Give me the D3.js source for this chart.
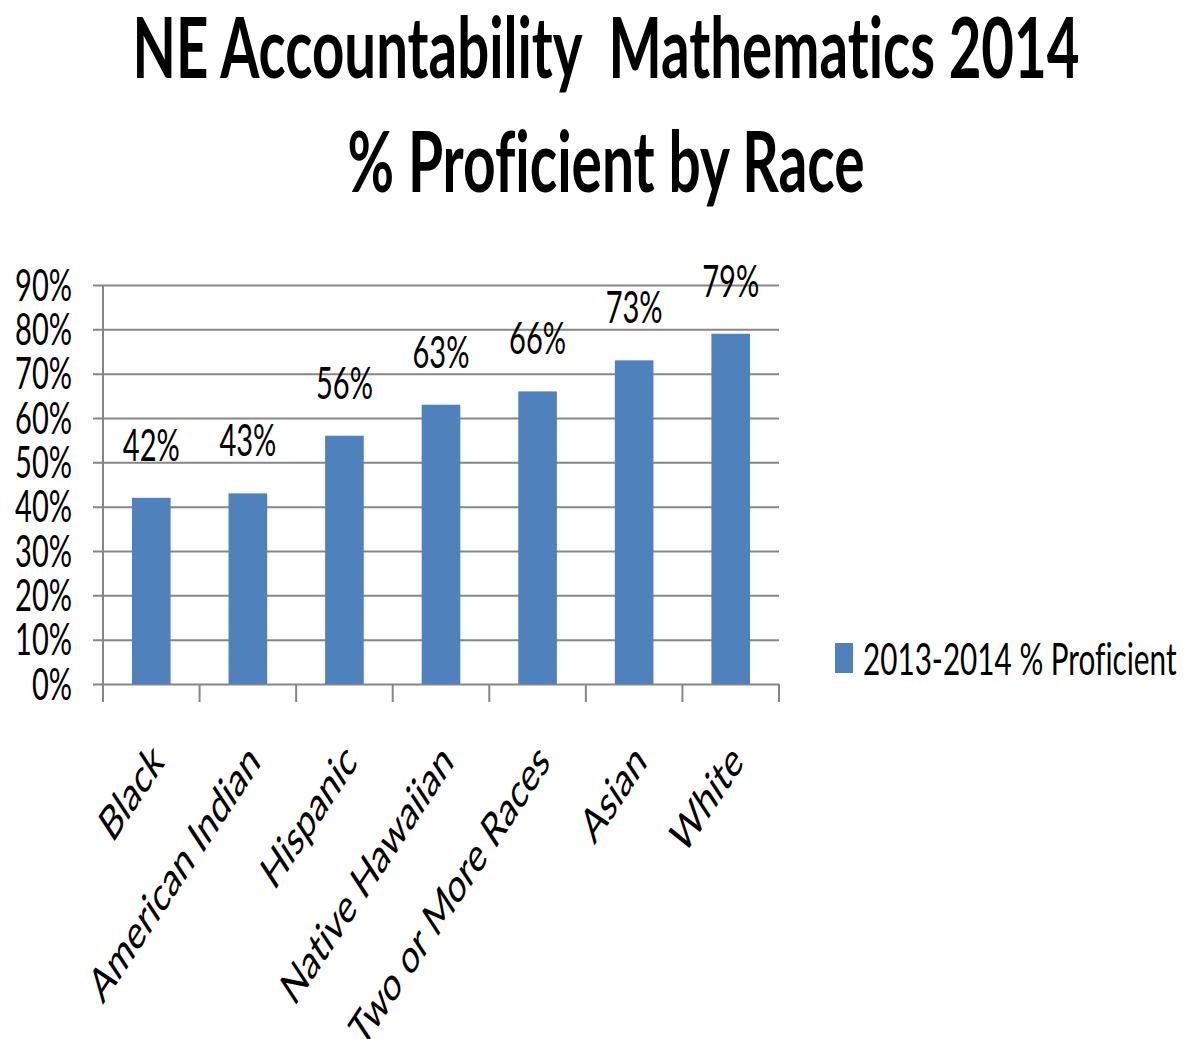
<!DOCTYPE html>
<html lang="en">
<head>
	<meta charset="UTF-8">
	<title>NE Accountability Mathematics 2014</title>
	<style>
		body { margin: 0; background: #fff; }
		text { font-family: Lato, "Open Sans", sans-serif; fill: #000; font-variant-ligatures: none; }
	</style>
</head>
<body>
	<svg id="chart" width="1190" height="1039"></svg>
	<script src="https://cdn.jsdelivr.net/npm/d3@7"></script>
	<script>

	// data
	var titleLines = ["NE Accountability  Mathematics 2014", "% Proficient by Race"];
	var categories = ["Black", "American Indian", "Hispanic", "Native Hawaiian", "Two or More Races", "Asian", "White"];
	var values = [0.42, 0.43, 0.56, 0.63, 0.66, 0.73, 0.79];
	var yTicks = [0, 0.1, 0.2, 0.3, 0.4, 0.5, 0.6, 0.7, 0.8, 0.9];
	var seriesName = "2013-2014 % Proficient";

	var svg = d3.select("#chart"),
		plotL = 103, plotR = 779, plotT = 285, plotB = 684,
		barColor = "#4f81bd",
		gridColor = "#868686",
		sx = 0.66,      // the original text is squeezed sideways
		rotSx = 0.66;

	var x = d3.scaleBand().domain(categories).range([plotL, plotR]).padding(0);
	var y = d3.scaleLinear().domain([0, 0.9]).range([plotB, plotT]);
	var pct = d3.format(".0%");

	// title
	svg.selectAll(".title")
		.data(titleLines)
		.enter().append("text")
		.attr("class", "title")
		.attr("x", 606)
		.attr("y", function (d, i) { return 78 + i * 114; })
		.attr("text-anchor", "middle")
		.style("white-space", "pre")
		.style("font-size", "85px")
		.style("font-weight", "700")
		.attr("textLength", function (d, i) { return i == 0 ? 947 : 517; })
		.attr("lengthAdjust", "spacingAndGlyphs")
		.text(function (d) { return d; });

	// y axis with gridlines
	var yAxis = d3.axisLeft(y)
		.tickValues(yTicks)
		.tickFormat(pct)
		.tickSizeInner(-(plotR - plotL))
		.tickSizeOuter(0);

	var gy = svg.append("g")
		.attr("transform", "translate(" + plotL + ",0)")
		.call(yAxis);
	gy.select(".domain").remove();
	gy.selectAll(".tick line")
		.attr("x1", -10)
		.attr("stroke", gridColor)
		.attr("stroke-width", 2);
	gy.selectAll(".tick text")
		.attr("x", 0)
		.attr("y", 15)
		.attr("dy", null)
		.attr("text-anchor", "end")
		.attr("transform", "translate(" + (72 - plotL) + ",0) scale(" + sx + ",1)")
		.style("font-size", "44px")
		.style("font-family", "Lato, sans-serif")
		.attr("fill", "#000");

	// left axis line and bottom axis with ticks between categories
	svg.append("line")
		.attr("x1", plotL).attr("x2", plotL)
		.attr("y1", plotT).attr("y2", plotB + 18)
		.attr("stroke", gridColor).attr("stroke-width", 2);

	var bounds = d3.range(categories.length + 1).map(function (i) {
		return x.range()[0] + i * x.step();
	});
	svg.selectAll(".xtick")
		.data(bounds)
		.enter().append("line")
		.attr("class", "xtick")
		.attr("x1", function (d) { return d; })
		.attr("x2", function (d) { return d; })
		.attr("y1", plotB)
		.attr("y2", plotB + 18)
		.attr("stroke", gridColor).attr("stroke-width", 2);

	// bars
	var barW = x.bandwidth() * 0.4;
	svg.selectAll(".bar")
		.data(values)
		.enter().append("rect")
		.attr("class", "bar")
		.attr("x", function (d, i) { return x(categories[i]) + (x.bandwidth() - barW) / 2; })
		.attr("y", function (d) { return y(d); })
		.attr("width", barW)
		.attr("height", function (d) { return y(0) - y(d); })
		.attr("fill", barColor);

	// value labels
	svg.selectAll(".val")
		.data(values)
		.enter().append("text")
		.attr("class", "val")
		.attr("text-anchor", "middle")
		.attr("transform", function (d, i) {
			var cx = x(categories[i]) + x.bandwidth() / 2;
			return "translate(" + cx + "," + (y(d) - 37) + ") scale(" + sx + ",1)";
		})
		.style("font-size", "44px")
		.text(pct);

	// category labels, rotated
	svg.selectAll(".cat")
		.data(categories)
		.enter().append("text")
		.attr("class", "cat")
		.attr("text-anchor", "end")
		.attr("transform", function (d) {
			var cx = x(d) + x.bandwidth() / 2;
			return "translate(" + (cx + 14) + "," + 764 + ") scale(" + rotSx + ",1) rotate(-45)";
		})
		.style("font-size", "48px")
		.text(function (d) { return d; });

	// legend
	var lg = svg.append("g").attr("transform", "translate(835,643)");
	lg.append("rect")
		.attr("width", 18).attr("height", 30)
		.attr("fill", barColor);
	lg.append("text")
		.attr("transform", "translate(28,32) scale(" + sx + ",1)")
		.style("font-size", "45px")
		.text(seriesName);

	</script>
</body>
</html>
